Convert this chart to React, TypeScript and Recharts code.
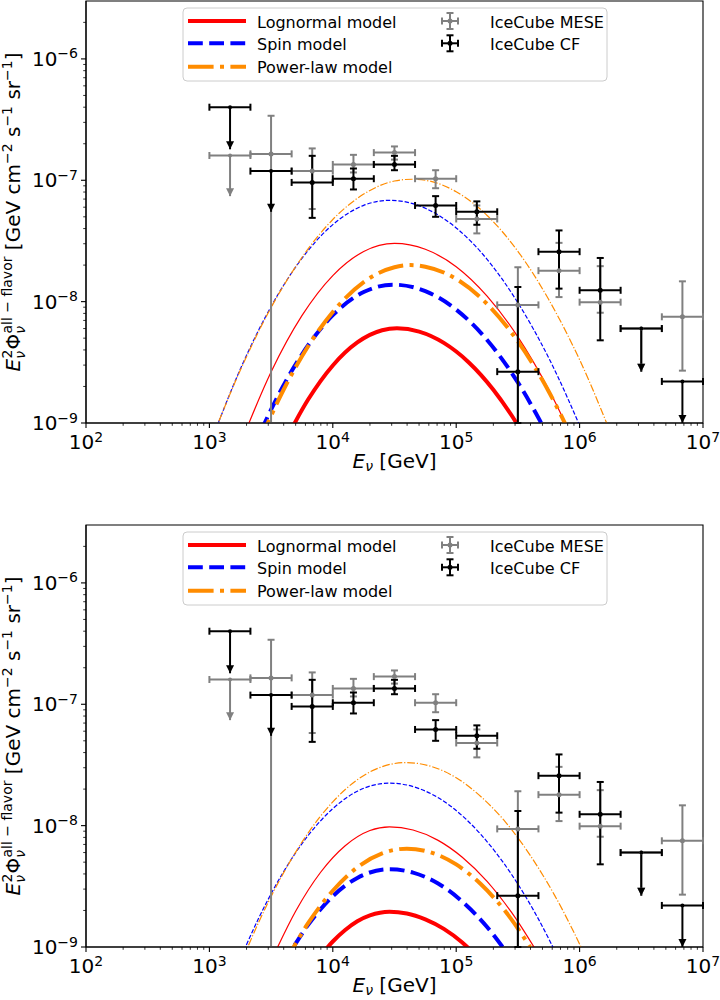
import React from 'react'
import { ComposedChart, Line, Scatter, XAxis, YAxis, ErrorBar, ReferenceArea } from 'recharts'

const FONT = '"DejaVu Sans", sans-serif'

// axis ticks (major + minor, log axes)
const xTicks = [
  1e2, 2e2, 3e2, 4e2, 5e2, 6e2, 7e2, 8e2, 9e2,
  1e3, 2e3, 3e3, 4e3, 5e3, 6e3, 7e3, 8e3, 9e3,
  1e4, 2e4, 3e4, 4e4, 5e4, 6e4, 7e4, 8e4, 9e4,
  1e5, 2e5, 3e5, 4e5, 5e5, 6e5, 7e5, 8e5, 9e5,
  1e6, 2e6, 3e6, 4e6, 5e6, 6e6, 7e6, 8e6, 9e6, 1e7,
]
const yTicks = [
  1e-9, 2e-9, 3e-9, 4e-9, 5e-9, 6e-9, 7e-9, 8e-9, 9e-9,
  1e-8, 2e-8, 3e-8, 4e-8, 5e-8, 6e-8, 7e-8, 8e-8, 9e-8,
  1e-7, 2e-7, 3e-7, 4e-7, 5e-7, 6e-7, 7e-7, 8e-7, 9e-7,
  1e-6, 2e-6,
]

// IceCube energy bins [GeV]
const binCenter = [1.47e3, 3.16e3, 6.81e3, 1.47e4, 3.16e4, 6.81e4, 1.47e5, 3.16e5, 6.81e5, 1.47e6, 3.16e6, 6.81e6]
const binLow = [1.0e3, 2.15e3, 4.64e3, 1.0e4, 2.15e4, 4.64e4, 1.0e5, 2.15e5, 4.64e5, 1.0e6, 2.15e6, 4.64e6]
const binHigh = [2.15e3, 4.64e3, 1.0e4, 2.15e4, 4.64e4, 1.0e5, 2.15e5, 4.64e5, 1.0e6, 2.15e6, 4.64e6, 1.0e7]

// IceCube MESE (gray)
const meseFlux = [1.6e-7, 1.65e-7, 1.19e-7, 1.35e-7, 1.69e-7, 1.03e-7, 4.8e-8, 9.4e-9, 1.8e-8, 9.9e-9, 6.0e-9, 7.5e-9]
const meseLow = [7.4e-8, 1e-9, 5.8e-8, 1.16e-7, 1.48e-7, 8.6e-8, 3.65e-8, 1e-9, 1.09e-8, 8.1e-9, 2.65e-9, 2.7e-9]
const meseHigh = [1.6e-7, 3.4e-7, 1.83e-7, 1.62e-7, 1.9e-7, 1.21e-7, 6.2e-8, 1.92e-8, 3.05e-8, 1.96e-8, 6.0e-9, 1.47e-8]
const meseUpper = [true, false, false, false, false, false, false, false, false, false, true, false]

// IceCube CF (black)
const cfFlux = [4.0e-7, 1.19e-7, 9.6e-8, 1.03e-7, 1.35e-7, 6.2e-8, 5.5e-8, 2.65e-9, 2.58e-8, 1.24e-8, 6.0e-9, 2.2e-9]
const cfLow = [1.8e-7, 5.5e-8, 4.9e-8, 8.4e-8, 1.21e-7, 5.0e-8, 4.3e-8, 1e-9, 1.28e-8, 4.8e-9, 2.65e-9, 1.0e-9]
const cfHigh = [4.0e-7, 1.19e-7, 1.59e-7, 1.25e-7, 1.59e-7, 7.4e-8, 6.7e-8, 1.32e-8, 3.86e-8, 2.29e-8, 6.0e-9, 2.2e-9]
const cfUpper = [true, true, false, false, false, false, false, false, false, false, true, true]

// model curves, top panel: [E, E^2 Phi]
const topLognormalThick = [
  [3.98e3, 6.67e-10], [6.31e3, 1.56e-9], [1.0e4, 2.98e-9], [1.58e4, 4.61e-9], [2.51e4, 5.81e-9], [3.31e4, 6.03e-9],
  [5.01e4, 5.66e-9], [7.94e4, 4.57e-9], [1.26e5, 3.17e-9], [2.0e5, 1.88e-9], [3.16e5, 9.6e-10], [3.98e5, 6.49e-10],
]
const topLognormalThin = [
  [1.78e3, 6.67e-10], [3.16e3, 2.63e-9], [5.62e3, 7.66e-9], [1.0e4, 1.64e-8], [1.78e4, 2.59e-8], [3.16e4, 3.02e-8],
  [5.62e4, 2.7e-8], [1.0e5, 1.94e-8], [1.78e5, 1.11e-8], [3.16e5, 5.13e-9], [5.62e5, 1.89e-9], [1.0e6, 5.58e-10],
]
const topSpinThick = [
  [2.24e3, 5.96e-10], [3.16e3, 1.29e-9], [5.62e3, 3.67e-9], [1.0e4, 7.73e-9], [1.78e4, 1.2e-8], [3.09e4, 1.38e-8],
  [5.62e4, 1.22e-8], [1.0e5, 8.6e-9], [1.78e5, 4.83e-9], [3.16e5, 2.16e-9], [5.62e5, 7.69e-10],
]
const topSpinThin = [
  [1.0e3, 6.46e-10], [1.78e3, 2.78e-9], [3.16e3, 9.11e-9], [5.62e3, 2.27e-8], [1.0e4, 4.31e-8], [1.78e4, 6.21e-8],
  [2.88e4, 6.84e-8], [5.62e4, 5.88e-8], [1.0e5, 4.05e-8], [1.78e5, 2.23e-8], [3.16e5, 9.8e-9], [5.62e5, 3.44e-9],
  [1.12e6, 7.29e-10],
]
const topPowerThick = [
  [2.51e3, 6.8e-10], [3.98e3, 1.87e-9], [6.31e3, 4.29e-9], [1.0e4, 8.22e-9], [1.78e4, 1.45e-8], [3.16e4, 1.92e-8],
  [4.27e4, 2.0e-8], [5.62e4, 1.94e-8], [1.0e5, 1.54e-8], [1.78e5, 9.57e-9], [3.16e5, 4.7e-9], [5.62e5, 1.82e-9],
  [8.91e5, 7.14e-10],
]
const topPowerThin = [
  [1.0e3, 6.58e-10], [1.78e3, 2.72e-9], [3.16e3, 8.93e-9], [5.62e3, 2.31e-8], [1.0e4, 4.75e-8], [1.78e4, 7.69e-8],
  [3.16e4, 9.86e-8], [4.37e4, 1.02e-7], [5.62e4, 1.0e-7], [1.0e5, 8.05e-8], [1.78e5, 5.13e-8], [3.16e5, 2.6e-8],
  [5.62e5, 1.04e-8], [1.0e6, 3.32e-9], [2.0e6, 6.19e-10],
]

// model curves, bottom panel
const botLognormalThick = [
  [7.94e3, 8.44e-10], [1.0e4, 1.11e-9], [1.26e4, 1.38e-9], [1.58e4, 1.63e-9], [2.0e4, 1.82e-9], [2.88e4, 1.95e-9],
  [3.98e4, 1.89e-9], [5.62e4, 1.69e-9], [7.94e4, 1.41e-9], [1.12e5, 1.09e-9], [1.58e5, 7.77e-10],
]
const botLognormalThin = [
  [3.16e3, 7.66e-10], [5.01e3, 1.98e-9], [7.94e3, 4.11e-9], [1.26e4, 6.83e-9], [2.0e4, 9.11e-9], [2.88e4, 9.77e-9],
  [4.47e4, 9.2e-9], [7.08e4, 7.6e-9], [1.12e5, 5.49e-9], [1.78e5, 3.47e-9], [2.82e5, 1.92e-9], [5.01e5, 7.64e-10],
]
const botSpinThick = [
  [3.98e3, 7.3e-10], [6.31e3, 1.52e-9], [1.0e4, 2.62e-9], [1.58e4, 3.71e-9], [2.88e4, 4.37e-9], [4.47e4, 4.1e-9],
  [7.08e4, 3.35e-9], [1.12e5, 2.37e-9], [1.78e5, 1.46e-9], [2.82e5, 7.85e-10],
]
const botSpinThin = [
  [1.58e3, 6.0e-10], [2.51e3, 1.73e-9], [3.98e3, 4.15e-9], [6.31e3, 8.29e-9], [1.0e4, 1.38e-8], [1.58e4, 1.92e-8],
  [2.88e4, 2.24e-8], [5.01e4, 2.02e-8], [8.91e4, 1.46e-8], [1.58e5, 8.48e-9], [2.82e5, 3.94e-9], [4.47e5, 1.82e-9],
  [7.08e5, 7.28e-10],
]
const botPowerThick = [
  [3.98e3, 7.08e-10], [6.31e3, 1.57e-9], [1.0e4, 2.91e-9], [1.58e4, 4.53e-9], [2.51e4, 5.91e-9], [3.98e4, 6.46e-9],
  [6.31e4, 5.99e-9], [1.0e5, 4.79e-9], [1.58e5, 3.3e-9], [2.51e5, 1.96e-9], [4.47e5, 8.26e-10],
]
const botPowerThin = [
  [1.58e3, 5.28e-10], [2.51e3, 1.6e-9], [3.98e3, 4.06e-9], [6.31e3, 8.7e-9], [1.0e4, 1.57e-8], [1.58e4, 2.39e-8],
  [2.51e4, 3.06e-8], [3.89e4, 3.31e-8], [6.31e4, 3.07e-8], [1.0e5, 2.48e-8], [1.58e5, 1.74e-8], [2.51e5, 1.07e-8],
  [3.98e5, 5.69e-9], [6.31e5, 2.64e-9], [1.26e6, 6.46e-10],
]

const RED = '#ff0000'
const BLUE = '#0000ff'
const ORANGE = '#ff8c00'
const GRAY = '#808080'

const toRows = (pts: number[][]) => pts.map(([x, y]) => ({ x, y }))

// error bar rows: detections and upper limits
function pointRows(flux: number[], low: number[], high: number[], upper: boolean[], wantUpper: boolean) {
  const rows: any[] = []
  binCenter.forEach((x, i) => {
    if (upper[i] !== wantUpper) return
    rows.push({
      x,
      y: flux[i],
      ex: [x - binLow[i], binHigh[i] - x],
      ey: wantUpper ? [flux[i] - low[i], 0] : [flux[i] - low[i], high[i] - flux[i]],
    })
  })
  return rows
}

function arrowRows(low: number[], upper: boolean[]) {
  const rows: any[] = []
  binCenter.forEach((x, i) => {
    if (upper[i]) rows.push({ x, y: low[i] })
  })
  return rows
}

const meseDet = pointRows(meseFlux, meseLow, meseHigh, meseUpper, false)
const meseUL = pointRows(meseFlux, meseLow, meseHigh, meseUpper, true)
const meseArrows = arrowRows(meseLow, meseUpper)
const cfDet = pointRows(cfFlux, cfLow, cfHigh, cfUpper, false)
const cfUL = pointRows(cfFlux, cfLow, cfHigh, cfUpper, true)
const cfArrows = arrowRows(cfLow, cfUpper)

const isMajor = (v: number) => {
  const e = Math.round(Math.log10(v))
  return { e, major: Math.abs(v / Math.pow(10, e) - 1) < 1e-6 }
}

const XTick = (props: any) => {
  const { x, y, payload } = props
  const { e, major } = isMajor(payload.value)
  return (
    <g>
      <line x1={x} x2={x} y1={y} y2={y + (major ? 5 : 2.8)} stroke="#000" strokeWidth={major ? 1.1 : 0.8} />
      {major && (
        <text x={x} y={y + 26} textAnchor="middle" fontSize={20} fill="#000" fontFamily={FONT}>
          10<tspan dy={-7.5} fontSize={14}>{e}</tspan>
        </text>
      )}
    </g>
  )
}

const YTick = (props: any) => {
  const { x, y, payload } = props
  const { e, major } = isMajor(payload.value)
  return (
    <g>
      <line x1={x} x2={x - (major ? 5 : 2.8)} y1={y} y2={y} stroke="#000" strokeWidth={major ? 1.1 : 0.8} />
      {major && (
        <text x={x - 8} y={y + 7} textAnchor="end" fontSize={20} fill="#000" fontFamily={FONT}>
          10<tspan dy={-7.5} fontSize={14}>{'\u2212' + Math.abs(e)}</tspan>
        </text>
      )}
    </g>
  )
}

const dot = (color: string, r: number) => (p: any) => <circle cx={p.cx} cy={p.cy} r={r} fill={color} />
const arrowHead = (color: string) => (p: any) => (
  <polygon points={`${p.cx - 4},${p.cy - 8} ${p.cx + 4},${p.cy - 8} ${p.cx},${p.cy}`} fill={color} />
)

function XTitle({ baseline }: { baseline: number }) {
  return (
    <text x={394.5} y={baseline} textAnchor="middle" fontSize={20} fill="#000" fontFamily={FONT} style={{ whiteSpace: 'pre' }}>
      <tspan fontStyle="italic">E</tspan>
      <tspan fontSize={14} fontStyle="italic" dy={3}>ν</tspan>
      <tspan dy={-3}>{' [GeV]'}</tspan>
    </text>
  )
}

function YTitle({ center }: { center: number }) {
  const cx = 20
  const cy = center
  return (
    <text
      x={cx}
      y={cy}
      transform={`rotate(-90 ${cx} ${cy})`}
      textAnchor="middle"
      fontSize={20}
      fill="#000"
      fontFamily={FONT}
      style={{ whiteSpace: 'pre' }}
    >
      <tspan fontStyle="italic">E</tspan>
      <tspan fontSize={14} fontStyle="italic" dy={5}>ν</tspan>
      <tspan fontSize={14} dx={-7.5} dy={-13}>2</tspan>
      <tspan dy={8}>Φ</tspan>
      <tspan fontSize={14} fontStyle="italic" dy={5}>ν</tspan>
      <tspan fontSize={14} dx={-7.5} dy={-13}>{'all − flavor'}</tspan>
      <tspan dy={8}>{' [GeV cm'}</tspan>
      <tspan fontSize={14} dy={-8}>{'−2'}</tspan>
      <tspan dy={8}>{' s'}</tspan>
      <tspan fontSize={14} dy={-8}>{'−1'}</tspan>
      <tspan dy={8}>{' sr'}</tspan>
      <tspan fontSize={14} dy={-8}>{'−1'}</tspan>
      <tspan dy={8}>]</tspan>
    </text>
  )
}

function LegendBox({ top }: { top: number }) {
  const rows = [14, 36.3, 59.7]
  const errIcon = (cx: number, cy: number, color: string) => (
    <g stroke={color} strokeWidth={2}>
      <line x1={cx - 8} x2={cx + 8} y1={cy} y2={cy} />
      <line x1={cx - 8} x2={cx - 8} y1={cy - 3.5} y2={cy + 3.5} />
      <line x1={cx + 8} x2={cx + 8} y1={cy - 3.5} y2={cy + 3.5} />
      <line x1={cx} x2={cx} y1={cy - 8} y2={cy + 8} />
      <line x1={cx - 3.5} x2={cx + 3.5} y1={cy - 8} y2={cy - 8} />
      <line x1={cx - 3.5} x2={cx + 3.5} y1={cy + 8} y2={cy + 8} />
      <circle cx={cx} cy={cy} r={2.5} fill={color} stroke="none" />
    </g>
  )
  return (
    <svg width={428} height={78} style={{ position: 'absolute', left: 182, top }}>
      <rect x={1} y={1} width={424} height={73} rx={4} fill="#fff" fillOpacity={0.8} stroke="#cccccc" />
      <line x1={6} x2={64} y1={rows[0]} y2={rows[0]} stroke={RED} strokeWidth={4} />
      <line x1={6} x2={64} y1={rows[1]} y2={rows[1]} stroke={BLUE} strokeWidth={4} strokeDasharray="14.8 6.4" />
      <line x1={6} x2={64} y1={rows[2]} y2={rows[2]} stroke={ORANGE} strokeWidth={4} strokeDasharray="25.6 6.4 4 6.4" />
      <g fontFamily={FONT} fontSize={16} fill="#000">
        <text x={75} y={rows[0] + 6.5}>Lognormal model</text>
        <text x={75} y={rows[1] + 6.5}>Spin model</text>
        <text x={75} y={rows[2] + 6.5}>Power-law model</text>
        <text x={308} y={rows[0] + 6.5}>IceCube MESE</text>
        <text x={308} y={rows[1] + 6.5}>IceCube CF</text>
      </g>
      {errIcon(268, rows[0], GRAY)}
      {errIcon(268, rows[1], '#000')}
    </svg>
  )
}

type Curves = {
  lognormalThick: number[][]
  lognormalThin: number[][]
  spinThick: number[][]
  spinThin: number[][]
  powerThick: number[][]
  powerThin: number[][]
}

function Panel({ curves, marginTop }: { curves: Curves; marginTop: number }) {
  const plotH = 422
  const axisH = 52
  const height = marginTop + plotH + axisH
  const plotBottom = marginTop + plotH
  const models = [
    { key: 'lnThick', data: curves.lognormalThick, color: RED, w: 4, dash: undefined },
    { key: 'lnThin', data: curves.lognormalThin, color: RED, w: 1.2, dash: undefined },
    { key: 'spThick', data: curves.spinThick, color: BLUE, w: 4, dash: '14.8 6.4' },
    { key: 'spThin', data: curves.spinThin, color: BLUE, w: 1.2, dash: '4.4 1.9' },
    { key: 'plThick', data: curves.powerThick, color: ORANGE, w: 4, dash: '25.6 6.4 4 6.4' },
    { key: 'plThin', data: curves.powerThin, color: ORANGE, w: 1.2, dash: '7.7 1.9 1.2 1.9' },
  ]
  return (
    <div style={{ position: 'relative', width: 720, height }}>
      <ComposedChart width={720} height={height} margin={{ top: marginTop, right: 17, bottom: 0, left: 0 }}>
        <XAxis
          dataKey="x"
          type="number"
          scale="log"
          domain={[1e2, 1e7]}
          allowDataOverflow
          ticks={xTicks}
          interval={0}
          tick={<XTick />}
          tickLine={false}
          tickSize={0}
          tickMargin={0}
          height={axisH}
          axisLine={{ stroke: '#000', strokeWidth: 1.1 }}
          label={<XTitle baseline={plotBottom + 45} />}
        />
        <YAxis
          dataKey="y"
          type="number"
          scale="log"
          domain={[1e-9, 3e-6]}
          allowDataOverflow
          ticks={yTicks}
          interval={0}
          tick={<YTick />}
          tickLine={false}
          tickSize={0}
          tickMargin={0}
          width={86}
          axisLine={{ stroke: '#000', strokeWidth: 1.1 }}
          label={<YTitle center={marginTop + plotH / 2} />}
        />
        <ReferenceArea x1={1e2} x2={1e7} y1={1e-9} y2={3e-6} fill="none" stroke="#000" strokeWidth={1.1} />
        {models.map((m) => (
          <Line
            key={m.key}
            data={toRows(m.data)}
            dataKey="y"
            type="monotone"
            stroke={m.color}
            strokeWidth={m.w}
            strokeDasharray={m.dash}
            dot={false}
            activeDot={false}
            isAnimationActive={false}
          />
        ))}
        <Scatter data={meseDet} dataKey="y" shape={dot(GRAY, 2.5)} isAnimationActive={false}>
          <ErrorBar dataKey="ex" direction="x" width={3.5} stroke={GRAY} strokeWidth={2} isAnimationActive={false} />
          <ErrorBar dataKey="ey" direction="y" width={3.5} stroke={GRAY} strokeWidth={2} isAnimationActive={false} />
        </Scatter>
        <Scatter data={meseUL} dataKey="y" shape={dot(GRAY, 2)} isAnimationActive={false}>
          <ErrorBar dataKey="ex" direction="x" width={3.5} stroke={GRAY} strokeWidth={2} isAnimationActive={false} />
          <ErrorBar dataKey="ey" direction="y" width={0} stroke={GRAY} strokeWidth={2} isAnimationActive={false} />
        </Scatter>
        <Scatter data={meseArrows} dataKey="y" shape={arrowHead(GRAY)} isAnimationActive={false} />
        <Scatter data={cfDet} dataKey="y" shape={dot('#000', 2.5)} isAnimationActive={false}>
          <ErrorBar dataKey="ex" direction="x" width={3.5} stroke="#000" strokeWidth={2} isAnimationActive={false} />
          <ErrorBar dataKey="ey" direction="y" width={3.5} stroke="#000" strokeWidth={2} isAnimationActive={false} />
        </Scatter>
        <Scatter data={cfUL} dataKey="y" shape={dot('#000', 2)} isAnimationActive={false}>
          <ErrorBar dataKey="ex" direction="x" width={3.5} stroke="#000" strokeWidth={2} isAnimationActive={false} />
          <ErrorBar dataKey="ey" direction="y" width={0} stroke="#000" strokeWidth={2} isAnimationActive={false} />
        </Scatter>
        <Scatter data={cfArrows} dataKey="y" shape={arrowHead('#000')} isAnimationActive={false} />
      </ComposedChart>
      <LegendBox top={marginTop + 6} />
    </div>
  )
}

export default function App() {
  return (
    <div style={{ position: 'absolute', left: 0, top: 0, width: 720, height: 1000, background: '#fff', fontFamily: FONT }}>
      <Panel
        marginTop={1}
        curves={{
          lognormalThick: topLognormalThick,
          lognormalThin: topLognormalThin,
          spinThick: topSpinThick,
          spinThin: topSpinThin,
          powerThick: topPowerThick,
          powerThin: topPowerThin,
        }}
      />
      <Panel
        marginTop={50}
        curves={{
          lognormalThick: botLognormalThick,
          lognormalThin: botLognormalThin,
          spinThick: botSpinThick,
          spinThin: botSpinThin,
          powerThick: botPowerThick,
          powerThin: botPowerThin,
        }}
      />
    </div>
  )
}
